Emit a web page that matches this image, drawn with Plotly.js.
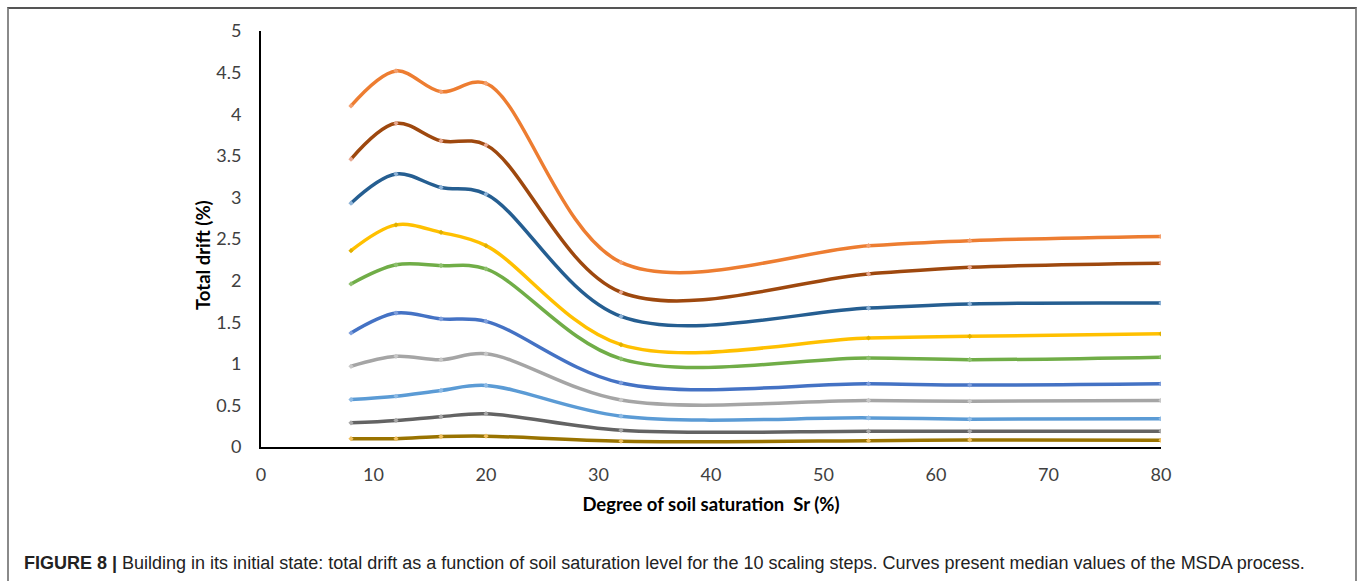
<!DOCTYPE html>
<html>
<head>
<meta charset="utf-8">
<script src="https://cdn.plot.ly/plotly-3.0.1.min.js"></script>
<style>
html,body{margin:0;padding:0;background:#fff;}
#wrap{position:relative;width:1357px;height:581px;overflow:hidden;}
#chart{position:absolute;left:0;top:0;width:1357px;height:581px;}
#frame{position:absolute;left:7px;top:7px;width:1346px;height:600px;border-top:2px solid #555;border-left:2px solid #8a8a8a;border-right:2px solid #8a8a8a;pointer-events:none;}
</style>
</head>
<body>
<div id="wrap">
<div id="chart"></div>
<div id="frame"></div>
</div>
<script>
const saturation = [8, 12, 16, 20, 32, 54, 63, 80];

const step10 = [4.10, 4.52, 4.27, 4.37, 2.22, 2.42, 2.48, 2.53];
const step9  = [3.46, 3.89, 3.68, 3.63, 1.86, 2.08, 2.16, 2.21];
const step8  = [2.93, 3.28, 3.12, 3.04, 1.57, 1.67, 1.72, 1.73];
const step7  = [2.36, 2.67, 2.58, 2.42, 1.23, 1.31, 1.33, 1.36];
const step6  = [1.96, 2.19, 2.18, 2.14, 1.06, 1.07, 1.05, 1.08];
const step5  = [1.37, 1.61, 1.54, 1.51, 0.77, 0.76, 0.745, 0.76];
const step4  = [0.97, 1.09, 1.05, 1.12, 0.565, 0.56, 0.55, 0.56];
const step3  = [0.57, 0.61, 0.68, 0.74, 0.37, 0.35, 0.335, 0.34];
const step2  = [0.29, 0.32, 0.365, 0.40, 0.20, 0.19, 0.19, 0.19];
const step1  = [0.10, 0.10, 0.125, 0.13, 0.07, 0.075, 0.085, 0.08];

const seriesNames = ["Step 1","Step 2","Step 3","Step 4","Step 5","Step 6","Step 7","Step 8","Step 9","Step 10"];
const seriesData = [step1, step2, step3, step4, step5, step6, step7, step8, step9, step10];
const lineColors = ["#997300","#636363","#5B9BD5","#A5A5A5","#4472C4","#70AD47","#FFC000","#255E91","#9E480E","#ED7D31"];
const markerColors = ["#f0c060","#a8a8a8","#8fbbe5","#c8c8c8","#7f9fdc","#8fc070","#e0b000","#8fb4d8","#e8a890","#f3a070"];

const yTicks = [0,0.5,1,1.5,2,2.5,3,3.5,4,4.5,5];
const yTickText = ["0","0.5","1","1.5","2","2.5","3","3.5","4","4.5","5"];
const xTicks = [0,10,20,30,40,50,60,70,80];

const traces = seriesData.map((ys, i) => ({
  x: saturation,
  y: ys,
  name: seriesNames[i],
  type: "scatter",
  mode: "lines+markers",
  line: {shape: "spline", smoothing: 1, color: lineColors[i], width: 3.5},
  marker: {size: 4, color: markerColors[i], symbol: "diamond"},
  showlegend: false,
  hoverinfo: "x+y+name"
}));

const tickFont = {family: "Lato, 'Open Sans', sans-serif", size: 18, color: "#404040"};
const titleFont = {family: "Lato, 'Open Sans', sans-serif", size: 18.5, color: "#000", weight: 700};

const layout = {
  width: 1357,
  height: 581,
  margin: {l: 261, r: 196, t: 31, b: 134},
  paper_bgcolor: "rgba(0,0,0,0)",
  plot_bgcolor: "rgba(0,0,0,0)",
  xaxis: {
    range: [0, 80],
    tickvals: xTicks,
    ticktext: xTicks.map(String),
    showgrid: false,
    zeroline: false,
    showline: true,
    linecolor: "#000",
    linewidth: 2,
    ticks: "",
    ticklabelstandoff: 10,
    tickfont: tickFont,
    title: {text: "Degree of soil saturation  Sr (%)", font: titleFont, standoff: 14}
  },
  yaxis: {
    range: [0, 5],
    tickvals: yTicks,
    ticktext: yTickText,
    showgrid: false,
    zeroline: false,
    showline: true,
    linecolor: "#000",
    linewidth: 2,
    ticks: "",
    ticklabelstandoff: 14,
    tickfont: tickFont
  },
  annotations: [{
    xref: "paper", yref: "paper",
    x: (203 - 261) / 900, y: (447 - 255) / 416,
    xanchor: "center", yanchor: "middle",
    textangle: -90,
    showarrow: false,
    text: "Total drift (%)",
    font: titleFont
  }, {
    xref: "paper", yref: "paper",
    x: (22 - 261) / 900, y: (447 - 563) / 416,
    xanchor: "left", yanchor: "middle",
    showarrow: false,
    align: "left",
    text: "<b>FIGURE 8 |</b> Building in its initial state: total drift as a function of soil saturation level for the 10 scaling steps. Curves present median values of the MSDA process.",
    font: {family: "'Liberation Sans', Arial, sans-serif", size: 18, color: "#222"}
  }]
};

Plotly.newPlot("chart", traces, layout, {displayModeBar: false, staticPlot: true});
</script>
</body>
</html>
